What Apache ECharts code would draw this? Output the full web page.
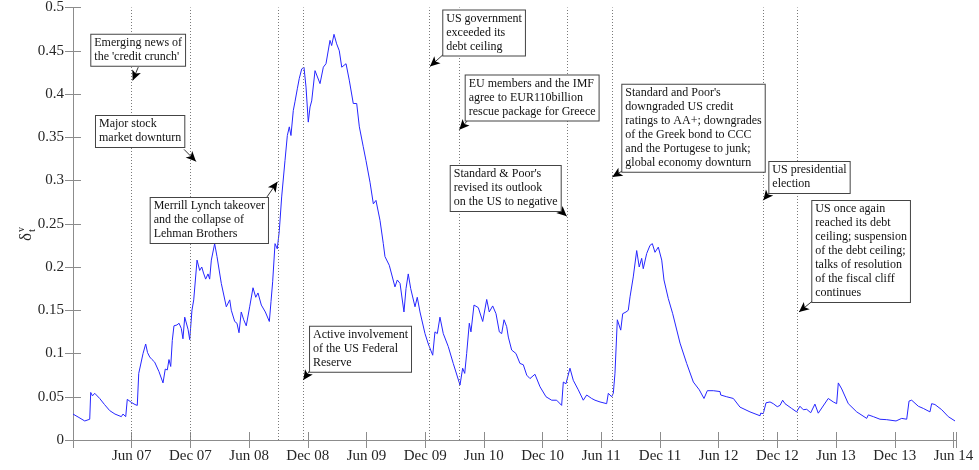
<!DOCTYPE html>
<html>
<head>
<meta charset="utf-8">
<script src="https://cdn.jsdelivr.net/npm/echarts@6/dist/echarts.min.js"></script>
<style>
  html, body { margin: 0; padding: 0; background: #fff; }
  #main { width: 979px; height: 470px; }
</style>
</head>
<body>
<div id="main"></div>
<script>
// x = months since 1 Dec 2006, y = delta_t^v
const months = [
  0.00, 0.61, 1.20, 1.71, 1.81, 1.99, 2.22, 2.73, 3.22, 3.75,
  4.29, 4.94, 5.11, 5.39, 5.55, 5.96, 6.34, 6.57, 6.72, 6.92,
  7.16, 7.43, 7.62, 7.84, 8.08, 8.35, 8.51, 8.79, 9.20, 9.43,
  9.64, 9.81, 9.99, 10.15, 10.32, 10.63, 10.84, 11.07, 11.24, 11.42,
  11.76, 11.93, 12.16, 12.34, 12.68, 12.95, 13.16, 13.34, 13.56, 13.80,
  13.97, 14.14, 14.48, 14.72, 15.16, 15.67, 16.02, 16.18, 16.53, 16.76,
  16.97, 17.20, 17.45, 17.71, 18.06, 18.40, 18.68, 18.91, 19.25, 19.66,
  20.07, 20.24, 20.41, 20.65, 20.88, 21.09, 21.33, 21.67, 21.91, 22.11,
  22.28, 22.52, 22.69, 22.93, 23.13, 23.38, 23.61, 23.82, 24.05, 24.23,
  24.40, 24.74, 24.91, 25.25, 25.59, 25.86, 26.27, 26.44, 26.68, 26.95,
  27.22, 27.47, 27.91, 28.24, 28.65, 29.00, 29.27, 29.67, 29.95, 30.36,
  30.70, 30.97, 31.38, 31.72, 31.89, 32.07, 32.33, 32.91, 33.15, 33.43,
  33.83, 34.04, 34.27, 34.52, 34.96, 35.19, 35.47, 35.98, 36.32, 36.77,
  37.00, 37.24, 37.51, 37.85, 38.36, 38.87, 39.56, 39.83, 40.04, 40.24,
  40.51, 40.68, 40.99, 41.43, 41.88, 42.29, 42.55, 42.90, 43.24, 43.58,
  43.82, 44.06, 44.33, 44.50, 44.84, 45.28, 45.69, 46.03, 46.38, 46.71,
  47.22, 47.74, 48.35, 48.93, 49.44, 49.95, 50.12, 50.39, 50.80, 51.14,
  51.65, 52.16, 52.51, 53.02, 53.36, 53.87, 54.55, 54.72, 55.06, 55.23,
  55.40, 55.64, 55.74, 55.99, 56.19, 56.53, 56.76, 56.94, 57.27, 57.62,
  57.88, 58.13, 58.29, 58.64, 58.98, 59.22, 59.49, 59.83, 60.18, 60.41,
  60.85, 61.30, 62.05, 62.73, 63.41, 64.02, 64.50, 64.84, 65.45, 66.14,
  66.21, 66.82, 67.50, 68.18, 69.20, 70.23, 70.29, 70.56, 70.84, 71.25,
  71.58, 71.99, 72.27, 72.54, 72.78, 73.46, 73.97, 74.31, 74.65, 75.00,
  75.41, 75.84, 76.18, 77.20, 77.38, 77.72, 78.06, 78.23, 78.58, 79.25,
  80.11, 81.13, 81.30, 81.81, 82.49, 83.18, 84.13, 84.71, 85.22, 85.46,
  85.73, 86.41, 86.92, 87.60, 87.77, 88.11, 88.80, 89.47, 90.16
];
const delta = [
  0.030, 0.026, 0.022, 0.024, 0.055, 0.051, 0.054, 0.048, 0.041, 0.034,
  0.030, 0.027, 0.030, 0.027, 0.047, 0.0435, 0.041, 0.040, 0.077, 0.079,
  0.100, 0.111, 0.101, 0.096, 0.093, 0.090, 0.088, 0.079, 0.066, 0.082,
  0.081, 0.093, 0.085, 0.115, 0.132, 0.133, 0.135, 0.129, 0.117, 0.142,
  0.128, 0.116, 0.150, 0.162, 0.208, 0.196, 0.200, 0.193, 0.186, 0.192,
  0.186, 0.208, 0.227, 0.212, 0.181, 0.154, 0.162, 0.150, 0.137, 0.135,
  0.124, 0.148, 0.139, 0.132, 0.154, 0.176, 0.165, 0.170, 0.156, 0.148,
  0.137, 0.160, 0.183, 0.227, 0.221, 0.242, 0.281, 0.323, 0.352, 0.362,
  0.352, 0.381, 0.391, 0.406, 0.418, 0.429, 0.431, 0.408, 0.3675, 0.385,
  0.392, 0.427, 0.429, 0.412, 0.431, 0.435, 0.462, 0.456, 0.469, 0.458,
  0.450, 0.431, 0.435, 0.416, 0.389, 0.389, 0.362, 0.339, 0.323, 0.298,
  0.273, 0.277, 0.254, 0.227, 0.212, 0.214, 0.202, 0.177, 0.185, 0.181,
  0.148, 0.175, 0.192, 0.175, 0.154, 0.165, 0.148, 0.123, 0.111, 0.098,
  0.125, 0.123, 0.142, 0.123, 0.108, 0.0885, 0.0635, 0.083, 0.077, 0.100,
  0.135, 0.125, 0.156, 0.153, 0.137, 0.1625, 0.148, 0.155, 0.146, 0.125,
  0.123, 0.139, 0.131, 0.119, 0.104, 0.100, 0.0885, 0.087, 0.075, 0.071,
  0.076, 0.0615, 0.050, 0.046, 0.046, 0.040, 0.067, 0.065, 0.083, 0.069,
  0.058, 0.046, 0.052, 0.048, 0.046, 0.044, 0.042, 0.054, 0.050, 0.054,
  0.077, 0.139, 0.141, 0.127, 0.146, 0.148, 0.150, 0.1655, 0.1885, 0.219,
  0.200, 0.210, 0.198, 0.2155, 0.225, 0.227, 0.217, 0.223, 0.208, 0.185,
  0.1635, 0.146, 0.112, 0.0885, 0.067, 0.058, 0.048, 0.057, 0.057, 0.056,
  0.052, 0.050, 0.048, 0.038, 0.0325, 0.028, 0.031, 0.0305, 0.043, 0.044,
  0.042, 0.0385, 0.040, 0.046, 0.042, 0.0365, 0.0325, 0.039, 0.035, 0.0355,
  0.0315, 0.0415, 0.031, 0.048, 0.046, 0.044, 0.042, 0.066, 0.059, 0.042,
  0.0325, 0.025, 0.029, 0.027, 0.024, 0.0235, 0.022, 0.025, 0.024, 0.045,
  0.046, 0.039, 0.0365, 0.0325, 0.042, 0.041, 0.035, 0.027, 0.022
];

// event dates (months since 1 Dec 2006)
const eventMonths = [6.0, 11.96, 20.99, 23.54, 36.42, 39.49, 50.50, 55.13, 70.56, 74.08];

const notes = [
  "Emerging news of\nthe 'credit crunch'",
  "Major stock\nmarket downturn",
  "Merrill Lynch takeover\nand the collapse of\nLehman Brothers",
  "Active involvement\nof the US Federal\nReserve",
  "US government\nexceeded its\ndebt ceiling",
  "EU members and the IMF\nagree to EUR110billion\nrescue package for Greece",
  "Standard & Poor's\nrevised its outlook\non the US to negative",
  "Standard and Poor's\ndowngraded US credit\nratings to AA+; downgrades\nof the Greek bond to CCC\nand the Portugese to junk;\nglobal economy downturn",
  "US presidential\nelection",
  "US once again\nreached its debt\nceiling; suspension\nof the debt ceiling;\ntalks of resolution\nof the fiscal cliff\ncontinues"
];

// annotation layout in axis units: box top-left, arrow tail, arrow head
const noteBox = [
  [1.87, 0.4685], [2.35, 0.3745], [7.94, 0.2798], [24.23, 0.1308], [37.85, 0.4965],
  [40.14, 0.4215], [38.61, 0.3167], [56.15, 0.4107], [71.18, 0.3214], [75.57, 0.2763]
];
const arrowTail = [
  [6.67, 0.431], [11.35, 0.336], [19.83, 0.281], [24.23, 0.0808], [37.85, 0.4457],
  [40.35, 0.3695], [49.61, 0.2676], [56.25, 0.3118], [71.25, 0.2867], [75.57, 0.1605]
];
const arrowHead = [
  [6.10, 0.4157], [12.57, 0.322], [20.9, 0.2985], [23.54, 0.0693], [36.49, 0.4319],
  [39.49, 0.3588], [50.47, 0.2587], [55.13, 0.304], [70.56, 0.2771], [74.21, 0.148]
];

const serif = '"Liberation Serif", "Times New Roman", serif';
const axisGrey = '#8c8c8c';
const labelColor = '#262626';

function monthLabel(m) {
  if (Math.abs(m - Math.round(m)) > 1e-6) return '';
  const r = Math.round(m);
  if (r % 6 !== 0) return '';
  const total = 2006 * 12 + 11 + r;
  const yr = Math.floor(total / 12);
  const mon = total % 12;
  return (mon === 5 ? 'Jun ' : 'Dec ') + String(yr % 100).padStart(2, '0');
}

const chart = echarts.init(document.getElementById('main'));

const baseX = {
  type: 'value', min: 0, max: 90.26, interval: 6,
  axisLine: { show: true, lineStyle: { color: axisGrey, width: 1 } },
  axisTick: { show: true, inside: true, length: 8, lineStyle: { color: axisGrey } },
  splitLine: { show: false }
};
const baseY = {
  type: 'value', min: 0, max: 0.5, interval: 0.05,
  axisLine: { show: true, lineStyle: { color: axisGrey, width: 1 } },
  axisTick: { show: true, inside: true, length: 8, lineStyle: { color: axisGrey } },
  splitLine: { show: false }
};

const arrowLines = arrowTail.map((t, i) => [
  { coord: t, symbol: 'none', lineStyle: { color: '#000', width: 0.8, type: 'solid' } },
  { coord: arrowHead[i], symbol: 'arrow', symbolSize: [7, 10] }
]);
const eventLines = eventMonths.map(m => ({
  xAxis: m, symbol: 'none',
  lineStyle: { color: '#7a7a7a', width: 1, type: [1, 2] }
}));

chart.setOption({
  animation: false,
  grid: { left: 73, right: 23, top: 7, bottom: 30 },
  xAxis: [
    Object.assign({}, baseX, {
      position: 'bottom',
      axisLabel: {
        margin: 9, fontFamily: serif, fontSize: 15, color: labelColor,
        showMinLabel: false, formatter: monthLabel
      }
    }),
    Object.assign({}, baseX, { position: 'top', axisLabel: { show: false } })
  ],
  yAxis: [
    Object.assign({}, baseY, {
      position: 'left',
      axisLabel: {
        margin: 9, fontFamily: serif, fontSize: 15, color: labelColor,
        formatter: v => String(+v.toFixed(2))
      }
    }),
    Object.assign({}, baseY, { position: 'right', axisLabel: { show: false } })
  ],
  series: [{
    type: 'line',
    xAxisIndex: 0, yAxisIndex: 0,
    data: months.map((m, i) => [m, delta[i]]),
    showSymbol: false,
    lineStyle: { color: '#2626ff', width: 1 },
    markLine: {
      silent: true,
      symbol: 'none',
      label: { show: false },
      data: eventLines.concat(arrowLines)
    }
  }]
});

// annotation boxes and the axis title
const boxes = notes.map((txt, i) => {
  const p = chart.convertToPixel({ gridIndex: 0 }, noteBox[i]);
  return {
    type: 'text', x: p[0], y: p[1], z: 100,
    style: {
      text: txt, font: '12px ' + serif, fill: '#111',
      align: 'left', verticalAlign: 'top', lineHeight: 14,
      backgroundColor: '#fff', borderColor: '#444', borderWidth: 1,
      padding: [1, 3, 2, 3]
    }
  };
});

boxes.push({
  type: 'group', x: 27, y: 232, rotation: Math.PI / 2,
  children: [
    { type: 'text', x: -9, y: 0, style: { text: '\u03b4', font: '17px ' + serif, fill: labelColor, align: 'left', verticalAlign: 'middle' } },
    { type: 'text', x: 0, y: -6, style: { text: 'v', font: '10px ' + serif, fill: labelColor, align: 'left', verticalAlign: 'middle' } },
    { type: 'text', x: 0, y: 5, style: { text: 't', font: '11px ' + serif, fill: labelColor, align: 'left', verticalAlign: 'middle' } }
  ]
});

chart.setOption({ graphic: boxes });
</script>
</body>
</html>
